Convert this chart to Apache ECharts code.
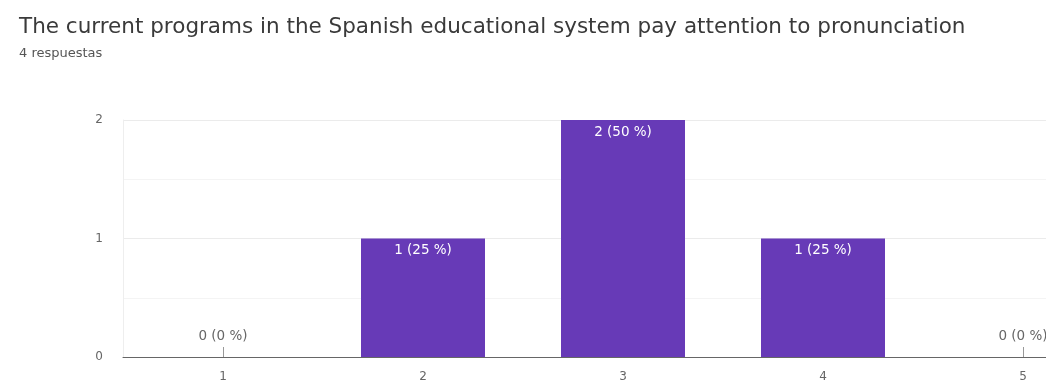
<!DOCTYPE html>
<html>
<head>
<meta charset="utf-8">
<script src="https://cdn.jsdelivr.net/npm/echarts@6/dist/echarts.min.js"></script>
<style>
html,body{margin:0;padding:0;background:#fff;overflow:hidden;width:1046px;height:385px;}
#chart{width:1123px;height:385px;}
</style>
</head>
<body>
<div id="chart"></div>
<script>
const titleText = 'The current programs in the Spanish educational system pay attention to pronunciation';
const subtitleText = '4 respuestas';
const categories = ['1', '2', '3', '4', '5'];
const counts = [0, 1, 2, 1, 0];
const percents = [0, 25, 50, 25, 0];
const yTicks = [0, 1, 2];

const FONT = '"DejaVu Sans", Verdana, sans-serif';
const chart = echarts.init(document.getElementById('chart'));
chart.setOption({
  backgroundColor: '#fff',
  animation: false,
  title: {
    text: titleText,
    subtext: subtitleText,
    left: 14,
    top: 11,
    itemGap: 9,
    textStyle: { fontFamily: FONT, fontSize: 21.5, fontWeight: 'normal', color: '#3a3a3a' },
    subtextStyle: { fontFamily: FONT, fontSize: 13, color: '#555' }
  },
  grid: { left: 123, right: 0, top: 120, bottom: 28, containLabel: false },
  xAxis: {
    type: 'category',
    data: categories,
    axisLine: { show: true, lineStyle: { color: '#666', width: 1 } },
    axisTick: { show: true, inside: true, alignWithLabel: true, length: 10, lineStyle: { color: '#999' } },
    axisLabel: { color: '#666', fontSize: 12, fontFamily: FONT, margin: 14 }
  },
  yAxis: {
    type: 'value',
    min: yTicks[0],
    max: yTicks[yTicks.length - 1],
    interval: 1,
    axisLine: { show: true, lineStyle: { color: '#eeeeee' } },
    axisTick: { show: false },
    axisLabel: { color: '#666', fontSize: 12, fontFamily: FONT, margin: 20 },
    splitLine: { lineStyle: { color: '#ebebeb' } },
    minorTick: { show: false, splitNumber: 2 },
    minorSplitLine: { show: true, lineStyle: { color: '#f4f4f4' } }
  },
  series: [{
    type: 'bar',
    data: counts.map((v, i) => ({
      value: v,
      label: v === 0
        ? { position: 'top', color: '#666', distance: 14 }
        : { position: 'insideTop', color: '#fff', distance: 5 }
    })),
    barWidth: '62%',
    itemStyle: { color: '#673ab7' },
    label: {
      show: true,
      fontSize: 13.5,
      fontFamily: FONT,
      formatter: p => counts[p.dataIndex] + ' (' + percents[p.dataIndex] + ' %)'
    }
  }]
});
</script>
</body>
</html>
